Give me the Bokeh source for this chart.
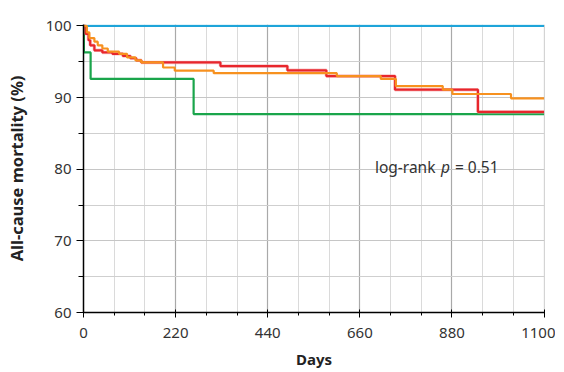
from bokeh.plotting import figure
from bokeh.models import Range1d, FixedTicker, Label
from bokeh.embed import file_html
from bokeh.resources import INLINE

# Kaplan-Meier style step data (days, survival %)
days_blue = [0, 1100]
surv_blue = [100, 100]

days_red = [0, 5, 12, 16, 26, 45, 69, 94, 112, 126, 138, 327, 487, 580, 744, 942, 1100]
surv_red = [100, 98.9, 98.0, 97.3, 96.6, 96.3, 96.1, 95.8, 95.5, 95.2, 94.9, 94.4, 93.8, 93.0, 91.1, 88.0, 88.0]

days_orange = [0, 8, 14, 26, 34, 45, 58, 85, 104, 124, 138, 190, 218, 311, 605, 710, 746, 858, 881, 1021, 1100]
surv_orange = [100, 99.1, 98.3, 97.8, 97.3, 96.85, 96.4, 96.1, 95.6, 95.2, 94.9, 94.2, 93.75, 93.4, 93.0, 92.6, 91.6, 91.1, 90.5, 89.9, 89.9]

days_green = [0, 1, 17, 263, 1100]
surv_green = [100, 96.3, 92.6, 87.7, 87.7]

x_ticks = [0, 220, 440, 660, 880, 1100]
y_ticks = [60, 70, 80, 90, 100]
x_minor = [73.33, 146.67, 293.33, 366.67, 513.33, 586.67, 733.33, 806.67, 953.33, 1026.67]
y_minor = [65, 75, 85, 95]

FONT = "Noto Sans"
TXT = "#333333"

p = figure(width=555, height=371, output_backend="svg", toolbar_location=None,
           x_range=Range1d(0, 1101), y_range=Range1d(60, 100.2),
           min_border_left=83, min_border_right=11, min_border_top=24, min_border_bottom=43)
p.outline_line_color = None
p.background_fill_color = "white"
p.border_fill_color = "white"

p.xaxis.ticker = FixedTicker(ticks=x_ticks, minor_ticks=x_minor)
p.yaxis.ticker = FixedTicker(ticks=y_ticks, minor_ticks=y_minor)

for ax in (p.xaxis, p.yaxis):
    ax.axis_line_color = "black"
    ax.axis_line_width = 1.5
    ax.major_tick_line_color = "black"
    ax.minor_tick_line_color = "black"
    ax.major_tick_in = 0
    ax.minor_tick_in = 0
    ax.major_tick_out = 7
    ax.minor_tick_out = 5
    ax.major_label_text_font = FONT
    ax.major_label_text_font_size = "15px"
    ax.major_label_text_color = TXT
    ax.axis_label_text_font = FONT
    ax.axis_label_text_font_size = "15px"
    ax.axis_label_text_font_style = "bold"
    ax.axis_label_text_color = "#222222"

p.xaxis.major_tick_in = 3
p.xaxis.major_tick_out = 5
p.xaxis.minor_tick_out = 3
p.yaxis.axis_label_text_font_size = "16.5px"

p.xaxis.axis_label = "Days"
p.yaxis.axis_label = "All-cause mortality (%)"
p.xaxis.major_label_standoff = 10
p.xaxis.axis_label_standoff = 8
p.yaxis.major_label_standoff = 5
p.yaxis.axis_label_standoff = 15

p.xgrid.ticker = p.xaxis.ticker
p.ygrid.ticker = p.yaxis.ticker
p.xgrid.grid_line_color = "#a9a9a9"
p.xgrid.minor_grid_line_color = "#dadada"
p.ygrid.grid_line_color = "#c6c6c6"
p.ygrid.minor_grid_line_color = "#cfcfcf"
p.xgrid.grid_line_width = 1.2
p.ygrid.grid_line_width = 1.2

p.line(days_blue, surv_blue, line_color="#1ea4d9", line_width=2.2)
p.step(days_green, surv_green, mode="after", line_color="#1aa54b", line_width=2.2)
p.step(days_red, surv_red, mode="after", line_color="#f4a0a4", line_width=3.5, line_alpha=0.6)
p.step(days_red, surv_red, mode="after", line_color="#e8262c", line_width=2.2)
p.step(days_orange, surv_orange, mode="after", line_color="#f7911f", line_width=2.2)

lx, ly = 696, 80.3
p.add_layout(Label(x=lx, y=ly, text="log-rank", text_font=FONT, text_font_size="15.5px",
                   text_color=TXT, text_baseline="alphabetic"))
p.add_layout(Label(x=lx, y=ly, x_offset=66, text="p", text_font=FONT, text_font_size="15.5px",
                   text_font_style="italic", text_color=TXT, text_baseline="alphabetic"))
p.add_layout(Label(x=lx, y=ly, x_offset=80, text="= 0.51", text_font=FONT, text_font_size="15.5px",
                   text_color=TXT, text_baseline="alphabetic"))

open("out.html", "w").write(file_html(p, INLINE))
